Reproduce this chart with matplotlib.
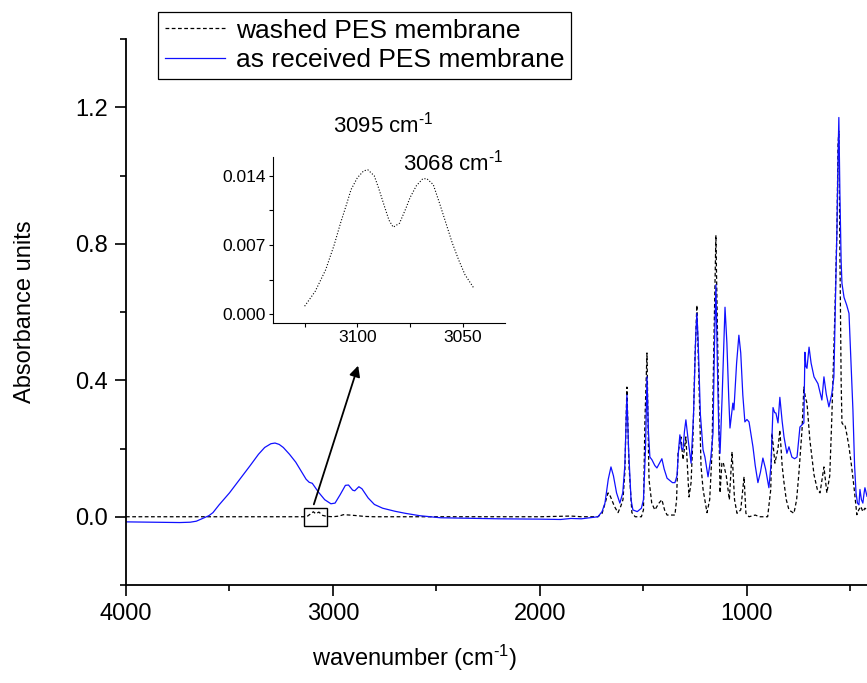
import numpy as np
import matplotlib
matplotlib.use('Agg')
import matplotlib.pyplot as plt
from matplotlib.patches import Rectangle
from matplotlib.ticker import MultipleLocator, FormatStrFormatter

plt.rcParams['font.family'] = ['Liberation Sans', 'DejaVu Sans']
plt.rcParams['mathtext.fontset'] = 'custom'
plt.rcParams['mathtext.rm'] = 'Liberation Sans'
plt.rcParams['mathtext.default'] = 'regular'

# as received PES membrane (blue)
wn_received = [4000, 3850, 3740, 3690, 3660, 3630, 3600, 3580, 3550, 3500, 3450, 3400, 3360, 3330,
               3300, 3280, 3260, 3240, 3210, 3180, 3150, 3130, 3115, 3100, 3085, 3070, 3040, 3010,
               2990, 2965, 2940, 2925, 2905, 2895, 2875, 2860, 2830, 2800, 2760, 2700, 2650, 2580,
               2480, 2300, 2200, 2000, 1900, 1850, 1800, 1760, 1720, 1700, 1686, 1670, 1657, 1645,
               1630, 1614, 1600, 1590, 1580, 1572, 1560, 1551, 1530, 1510, 1500, 1490, 1483, 1476,
               1469, 1459, 1445, 1435, 1420, 1411, 1400, 1386, 1360, 1348, 1338, 1330, 1324, 1316,
               1309, 1302, 1295, 1285, 1270, 1258, 1248, 1242, 1236, 1225, 1212, 1203, 1188, 1175,
               1164, 1157, 1150, 1143, 1136, 1130, 1120, 1106, 1097, 1088, 1082, 1068, 1063, 1050,
               1039, 1030, 1020, 1010, 1000, 990, 971, 960, 947, 935, 923, 910, 894, 884, 874, 866,
               860, 850, 841, 830, 821, 807, 797, 783, 770, 758, 744, 725, 720, 715, 710, 700, 690,
               676, 657, 645, 638, 628, 617, 604, 590, 580, 570, 565, 560, 556, 551, 545, 541, 531,
               518, 507, 497, 488, 480, 473, 466, 459, 454, 447, 440, 434, 430, 420]
abs_received = [-0.015, -0.016, -0.017, -0.016, -0.013, -0.005, 0.003, 0.012, 0.035, 0.07, 0.11,
                0.15, 0.183, 0.203, 0.214, 0.216, 0.212, 0.203, 0.183, 0.16, 0.13, 0.11, 0.101,
                0.098, 0.085, 0.072, 0.05, 0.038, 0.04, 0.065, 0.092, 0.093, 0.078, 0.076, 0.088,
                0.082, 0.055, 0.036, 0.025, 0.016, 0.01, 0.003, -0.003, -0.005, -0.006, -0.007,
                -0.008, -0.005, -0.006, -0.003, 0.0, 0.015, 0.04, 0.11, 0.146, 0.12, 0.07, 0.04,
                0.07, 0.15, 0.357, 0.2, 0.05, 0.02, 0.015, 0.025, 0.05, 0.2, 0.41, 0.25, 0.175,
                0.167, 0.15, 0.143, 0.16, 0.17, 0.14, 0.113, 0.1, 0.1, 0.12, 0.2, 0.24, 0.2, 0.196,
                0.25, 0.284, 0.23, 0.157, 0.3, 0.52, 0.596, 0.52, 0.3, 0.196, 0.175, 0.117, 0.17,
                0.245, 0.5, 0.68, 0.45, 0.25, 0.186, 0.35, 0.614, 0.51, 0.35, 0.26, 0.333, 0.313,
                0.45, 0.532, 0.48, 0.357, 0.278, 0.285, 0.278, 0.205, 0.15, 0.1, 0.13, 0.172, 0.14,
                0.085, 0.15, 0.32, 0.305, 0.304, 0.275, 0.35, 0.28, 0.234, 0.186, 0.205, 0.175,
                0.17, 0.175, 0.263, 0.275, 0.482, 0.44, 0.435, 0.497, 0.45, 0.41, 0.39, 0.36,
                0.342, 0.41, 0.36, 0.322, 0.36, 0.41, 0.7, 0.85, 1.05, 1.17, 0.95, 0.75, 0.684,
                0.643, 0.62, 0.596, 0.45, 0.313, 0.15, 0.07, 0.04, 0.035, 0.08, 0.05, 0.04, 0.07,
                0.085, 0.06]

# washed PES membrane (black dashed)
wn_washed = [4000, 3600, 3200, 3140, 3125, 3110, 3095, 3083, 3068, 3050, 3030, 3000, 2970, 2950,
             2920, 2880, 2850, 2800, 2000, 1850, 1800, 1720, 1700, 1690, 1671, 1660, 1640, 1623,
             1610, 1599, 1590, 1580, 1570, 1556, 1540, 1510, 1500, 1493, 1483, 1476, 1473, 1460,
             1445, 1425, 1411, 1398, 1386, 1348, 1340, 1333, 1319, 1309, 1295, 1280, 1270, 1261,
             1252, 1242, 1232, 1222, 1212, 1193, 1180, 1169, 1160, 1150, 1140, 1130, 1121, 1115,
             1100, 1085, 1072, 1060, 1048, 1030, 1014, 1005, 990, 960, 940, 900, 885, 879, 865,
             850, 841, 830, 821, 810, 797, 773, 760, 749, 734, 725, 718, 710, 696, 676, 660,
             647, 628, 614, 600, 590, 575, 565, 560, 556, 551, 545, 541, 535, 527, 517, 507,
             495, 483, 469, 460, 450, 440, 430, 420]
abs_washed = [0.0, 0.0, 0.0, 0.0, 0.001, 0.0075, 0.0146, 0.0088, 0.0137, 0.004, 0.001, 0.0, 0.002,
              0.006, 0.005, 0.003, 0.001, 0.0, 0.0, 0.002, 0.0, 0.0, 0.01, 0.03, 0.07, 0.06, 0.03,
              0.012, 0.03, 0.05, 0.13, 0.38, 0.15, 0.012, 0.0, 0.0, 0.02, 0.28, 0.48, 0.2, 0.108,
              0.04, 0.02, 0.04, 0.05, 0.02, 0.005, 0.005, 0.05, 0.186, 0.234, 0.167, 0.234, 0.058,
              0.1, 0.23, 0.45, 0.62, 0.4, 0.15, 0.08, 0.012, 0.05, 0.186, 0.5, 0.825, 0.45, 0.07,
              0.157, 0.16, 0.12, 0.05, 0.19, 0.05, 0.01, 0.02, 0.117, 0.01, 0.0, 0.005, 0.0, 0.0,
              0.08, 0.245, 0.157, 0.2, 0.254, 0.15, 0.1, 0.05, 0.02, 0.01, 0.05, 0.128, 0.254,
              0.38, 0.35, 0.333, 0.225, 0.123, 0.08, 0.07, 0.146, 0.07, 0.12, 0.29, 0.6, 0.85,
              1.09, 1.13, 0.78, 0.4, 0.275, 0.27, 0.27, 0.24, 0.205, 0.15, 0.088, 0.006, 0.02,
              0.03, 0.015, 0.025, 0.02]

# zoomed C-H aromatic region of the washed membrane (inset)
wn_inset = [3125, 3120, 3115, 3111, 3108, 3105, 3103, 3100, 3097, 3095, 3092, 3090, 3087, 3085,
            3083, 3080, 3077, 3075, 3072, 3069, 3067, 3064, 3061, 3058, 3055, 3052, 3049, 3045]
abs_inset = [0.0008, 0.0023, 0.0045, 0.0070, 0.0092, 0.0112, 0.0126, 0.0138, 0.0145, 0.0146,
             0.0140, 0.0128, 0.0108, 0.0095, 0.0088, 0.0092, 0.0107, 0.0118, 0.0130, 0.0137,
             0.0137, 0.0131, 0.0112, 0.0092, 0.0072, 0.0055, 0.0040, 0.0027]

fig = plt.figure(figsize=(8.67, 6.83), dpi=100)
ax = fig.add_axes([126 / 867, 98 / 683, 741 / 867, 546 / 683])

ax.plot(wn_washed, abs_washed, color='black', lw=0.9, dashes=(3, 2), label='washed PES membrane')
ax.plot(wn_received, abs_received, color='#1010ff', lw=0.9, label='as received PES membrane')

ax.set_xlim(4000, 420)
ax.set_ylim(-0.2, 1.4)
ax.xaxis.set_major_locator(MultipleLocator(1000))
ax.xaxis.set_minor_locator(MultipleLocator(500))
ax.yaxis.set_major_locator(MultipleLocator(0.4))
ax.yaxis.set_minor_locator(MultipleLocator(0.2))
ax.yaxis.set_major_formatter(FormatStrFormatter('%.1f'))
for side in ['top', 'right']:
    ax.spines[side].set_visible(False)
for side in ['left', 'bottom']:
    ax.spines[side].set_linewidth(1.3)
ax.tick_params(which='major', direction='out', length=8, width=1.2, labelsize=17, pad=5)
ax.tick_params(which='minor', direction='out', length=4, width=1.2)

ax.set_ylabel('Absorbance units', fontsize=17, labelpad=28)
ax.set_xlabel('wavenumber (cm$^{\\text{-1}}$)', fontsize=17)
ax.xaxis.set_label_coords(0.39, -0.105)

leg = ax.legend(loc='upper left', bbox_to_anchor=(158 / 867, 1 - 12 / 683),
                bbox_transform=fig.transFigure, fontsize=19, frameon=True, fancybox=False,
                edgecolor='black', framealpha=1, borderaxespad=0, borderpad=0.25,
                labelspacing=0.22, handlelength=2.3, handletextpad=0.4)
leg.get_frame().set_linewidth(0.9)

# box around the zoomed region and the arrow to the inset
ax.add_patch(Rectangle((3140, -0.026), -110, 0.052, fill=False, edgecolor='black', lw=1.0))
ax.annotate('', xy=(359, 683 - 363), xycoords='figure pixels',
            xytext=(313, 683 - 507), textcoords='figure pixels',
            arrowprops=dict(arrowstyle='-|>', color='black', lw=1.3, mutation_scale=16))

ins = fig.add_axes([273 / 867, 360 / 683, 232 / 867, 166 / 683])
ins.plot(wn_inset, abs_inset, color='black', lw=0.8, ls=':')
ins.set_xlim(3140, 3030)
ins.set_ylim(-0.0009, 0.0159)
ins.xaxis.set_major_locator(MultipleLocator(50))
ins.xaxis.set_minor_locator(MultipleLocator(25))
ins.yaxis.set_major_locator(MultipleLocator(0.007))
ins.yaxis.set_minor_locator(MultipleLocator(0.0035))
ins.yaxis.set_major_formatter(FormatStrFormatter('%.3f'))
for side in ['top', 'right']:
    ins.spines[side].set_visible(False)
for side in ['left', 'bottom']:
    ins.spines[side].set_linewidth(0.8)
ins.patch.set_alpha(0)
ins.tick_params(which='major', direction='out', length=3, width=0.8, labelsize=12.5, pad=2)
ins.tick_params(which='minor', direction='out', length=3, width=0.8)

fig.text(333 / 867, 1 - 125 / 683, '3095 cm$^{\\text{-1}}$', fontsize=16, va='center', ha='left')
fig.text(403 / 867, 1 - 163 / 683, '3068 cm$^{\\text{-1}}$', fontsize=16, va='center', ha='left')

fig.savefig('out.png', dpi=100)
